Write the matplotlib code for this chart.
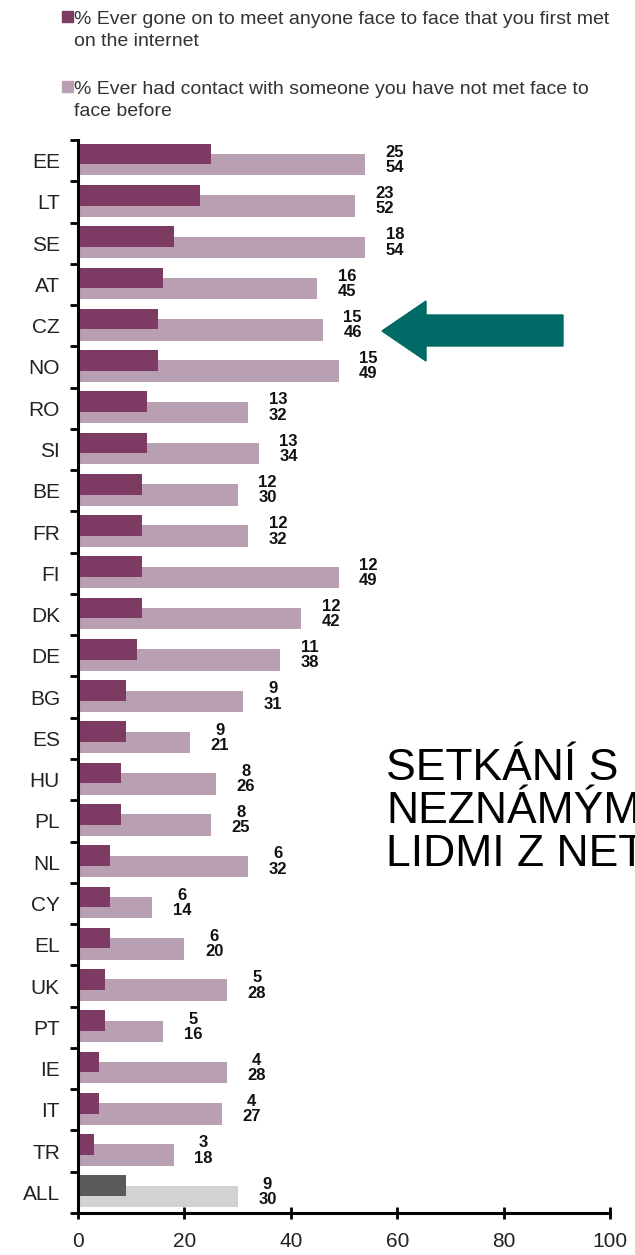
import matplotlib
matplotlib.use("Agg")
import matplotlib.pyplot as plt
from matplotlib.patches import Rectangle, Polygon
import numpy as np

plt.rcParams['font.family'] = ['Liberation Sans', 'DejaVu Sans']

# data
countries = ['EE', 'LT', 'SE', 'AT', 'CZ', 'NO', 'RO', 'SI', 'BE', 'FR', 'FI', 'DK', 'DE',
             'BG', 'ES', 'HU', 'PL', 'NL', 'CY', 'EL', 'UK', 'PT', 'IE', 'IT', 'TR', 'ALL']
met_face = [25, 23, 18, 16, 15, 15, 13, 13, 12, 12, 12, 12, 11,
            9, 9, 8, 8, 6, 6, 6, 5, 5, 4, 4, 3, 9]
had_contact = [54, 52, 54, 45, 46, 49, 32, 34, 30, 32, 49, 42, 38,
               31, 21, 26, 25, 32, 14, 20, 28, 16, 28, 27, 18, 30]
legend_labels = ['% Ever gone on to meet anyone face to face that you first met\non the internet',
                 '% Ever had contact with someone you have not met face to\nface before']
side_note = ['SETKÁNÍ S', 'NEZNÁMÝMI', 'LIDMI Z NETU']

dark = '#7d3b63'
light = '#b89fb1'
dark_all = '#5a5a5c'
light_all = '#d2d2d4'
teal = '#006a66'

W, H = 635, 1255
fig = plt.figure(figsize=(W / 100, H / 100), dpi=100)
ax = fig.add_axes([78 / W, 1 - 1213 / H, (610 - 78) / W, (1213 - 140) / H])

y = np.arange(len(countries))
c_dark = [dark] * (len(countries) - 1) + [dark_all]
c_light = [light] * (len(countries) - 1) + [light_all]

ax.barh(y + 0.10, had_contact, height=0.52, color=c_light, zorder=1)
ax.barh(y - 0.16, met_face, height=0.50, color=c_dark, zorder=2)

num_font = ['Liberation Sans Narrow', 'Liberation Sans', 'DejaVu Sans']
for i in range(len(countries)):
    xt = had_contact[i] + 5.6
    ax.text(xt, y[i] - 0.20, str(met_face[i]), ha='center', va='center',
            fontsize=12, fontweight='bold', color='#111111', family=num_font)
    ax.text(xt, y[i] + 0.17, str(had_contact[i]), ha='center', va='center',
            fontsize=12, fontweight='bold', color='#111111', family=num_font)

ax.set_xlim(0, 100)
ax.set_ylim(len(countries) - 0.5, -0.5)
ax.set_yticks(y)
ax.set_yticklabels(countries, fontsize=15, color='#222222')
ax.set_yticks(np.arange(len(countries) + 1) - 0.5, minor=True)
ax.tick_params(axis='y', which='major', length=0, pad=13)
ax.tick_params(axis='y', which='minor', length=6, width=2, direction='out')
ax.set_xticks([0, 20, 40, 60, 80, 100])
ax.tick_params(axis='x', length=9, width=2, direction='inout', labelsize=15,
               labelcolor='#222222', pad=9)
for s in ['top', 'right']:
    ax.spines[s].set_visible(False)
ax.spines['left'].set_linewidth(2.2)
ax.spines['bottom'].set_linewidth(2.2)

# legend at the top
for lab, col, ytop in zip(legend_labels, [dark, light], [11, 81]):
    fig.patches.append(Rectangle((62 / W, 1 - (ytop + 11) / H), 11 / W, 11 / H,
                                 transform=fig.transFigure, color=col))
    fig.text(74 / W, 1 - ytop / H, lab, ha='left', va='top', fontsize=14,
             color='#333333', linespacing=1.4)

# arrow pointing at CZ
arrow_px = [(382, 331), (426, 301), (426, 315), (563, 315), (563, 346),
            (426, 346), (426, 361)]
fig.patches.append(Polygon([(px / W, 1 - py / H) for px, py in arrow_px], closed=True,
                           transform=fig.transFigure, color=teal))

for k, line in enumerate(side_note):
    fig.text(386 / W, 1 - (780 + 43 * k) / H, line, ha='left', va='baseline',
             fontsize=32, color='black')

fig.savefig('out.png', dpi=100)
